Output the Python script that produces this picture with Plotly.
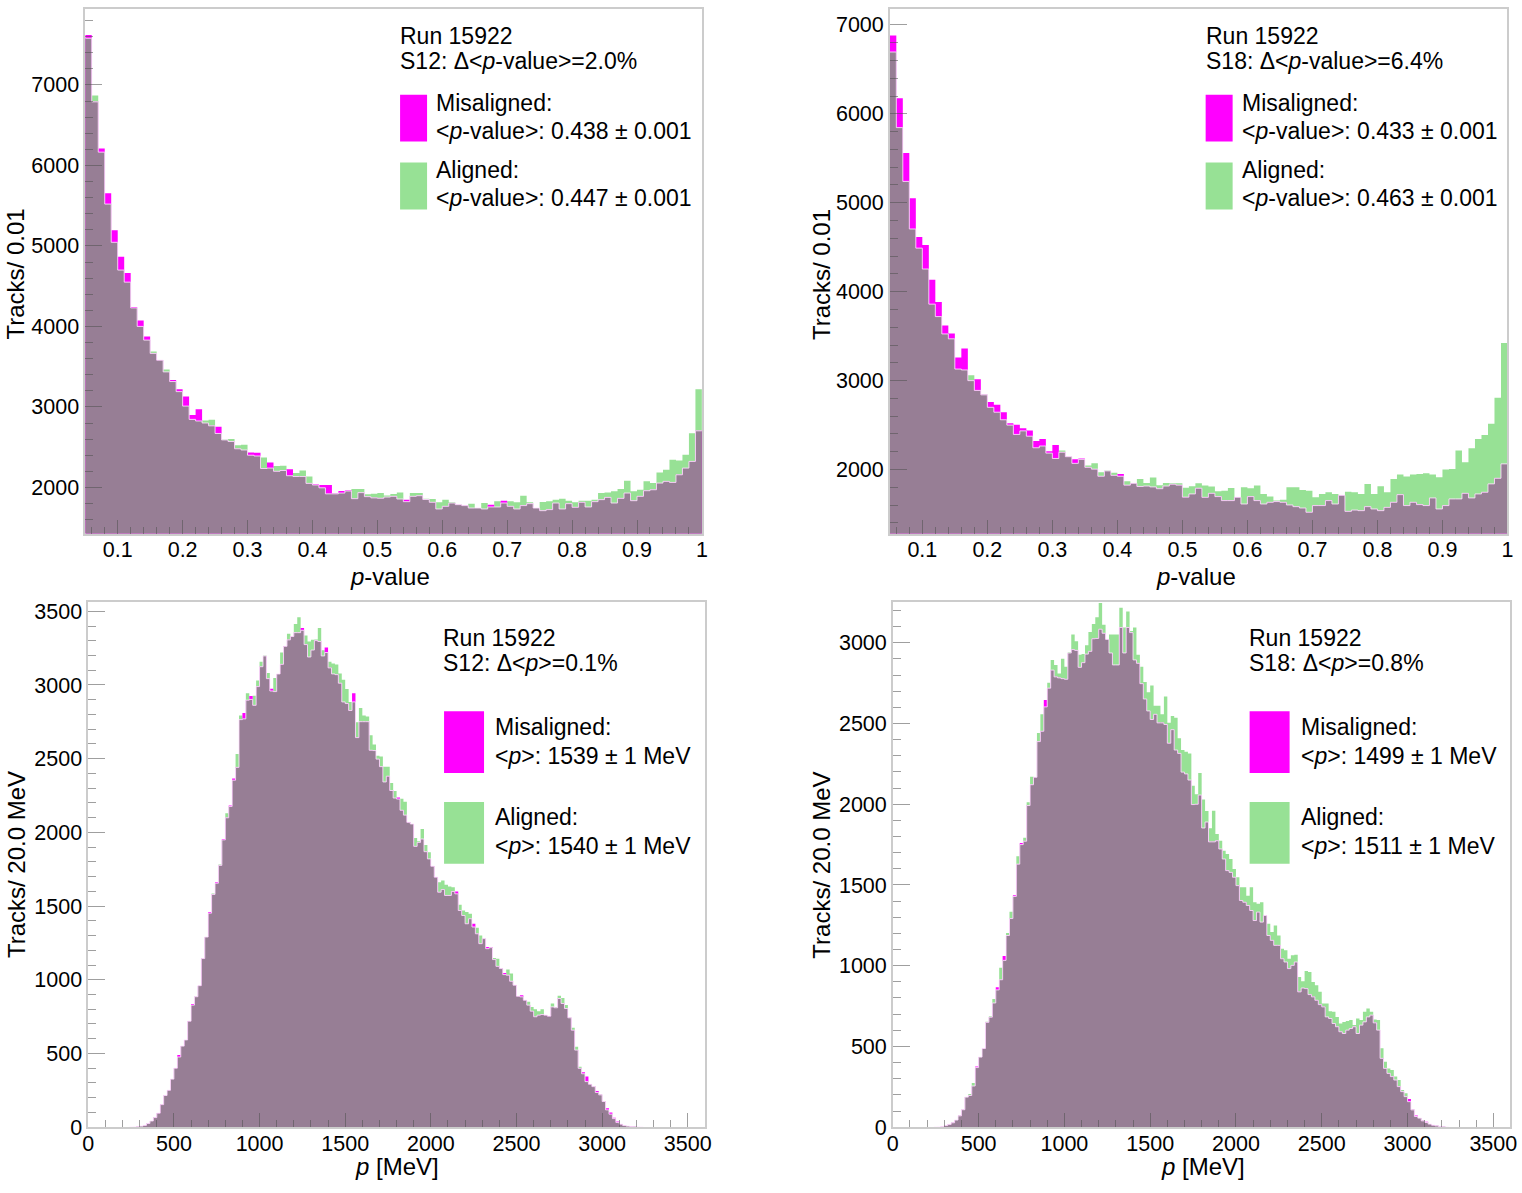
import numpy as np
import plotly.graph_objects as go

W, H = 1522, 1193

# ---- binning -------------------------------------------------------------
pval_lo, pval_bin = 0.05, 0.01      # p-value histograms: 0.05 .. 1.00
mom_lo, mom_bin = 240.0, 20.0       # momentum histograms, first stored bin 240 MeV

# ---- p-value, sector S12 (tracks / 0.01) ----------------------------------
pval_s12_mis = [
    7620, 6790, 6210, 5655, 5195, 4865, 4665, 4240, 4075, 3875,
    3665, 3580, 3435, 3335, 3220, 3130, 2900, 2970, 2800, 2765,
    2755, 2590, 2570, 2480, 2465, 2435, 2430, 2235, 2310, 2200,
    2210, 2225, 2135, 2135, 2050, 2040, 2030, 2030, 1925, 1955,
    1965, 1860, 1935, 1885, 1870, 1865, 1880, 1889, 1856, 1848,
    1889, 1897, 1850, 1815, 1732, 1765, 1806, 1786, 1774, 1744,
    1744, 1732, 1786, 1757, 1835, 1765, 1732, 1774, 1798, 1744,
    1711, 1724, 1806, 1732, 1798, 1753, 1815, 1757, 1823, 1848,
    1876, 1806, 1864, 1930, 1835, 1889, 1959, 1971, 2054, 2075,
    2062, 2157, 2240, 2323, 2703,
]
pval_s12_ali = [
    7580, 6870, 6165, 5520, 5045, 4700, 4550, 4230, 4000, 3830,
    3690, 3580, 3465, 3315, 3190, 3010, 2845, 2825, 2830, 2840,
    2670, 2595, 2600, 2525, 2530, 2400, 2390, 2370, 2240, 2265,
    2270, 2145, 2180, 2210, 2135, 2030, 1995, 1920, 1920, 1930,
    1955, 1980, 1980, 1915, 1920, 1930, 1900, 1918, 1938, 1823,
    1930, 1930, 1860, 1856, 1815, 1848, 1815, 1786, 1774, 1798,
    1744, 1806, 1757, 1827, 1806, 1827, 1815, 1897, 1815, 1744,
    1819, 1827, 1848, 1860, 1835, 1815, 1835, 1835, 1848, 1930,
    1938, 1951, 1980, 2083, 1951, 1971, 2075, 2054, 2186, 2219,
    2343, 2335, 2405, 2674, 3219,
]

# ---- p-value, sector S18 --------------------------------------------------
pval_s18_mis = [
    6880, 6175, 5560, 5050, 4615, 4525, 4135, 3885, 3620, 3530,
    3260, 3360, 3000, 3015, 2840, 2760, 2730, 2645, 2520, 2505,
    2465, 2440, 2320, 2345, 2205, 2275, 2195, 2145, 2115, 2125,
    2025, 2005, 1925, 1985, 1935, 1950, 1825, 1845, 1810, 1815,
    1805, 1785, 1815, 1835, 1825, 1690, 1726, 1790, 1688, 1733,
    1696, 1651, 1651, 1688, 1613, 1696, 1651, 1613, 1632, 1640,
    1632, 1602, 1583, 1568, 1520, 1595, 1595, 1651, 1613, 1715,
    1530, 1545, 1538, 1583, 1557, 1538, 1575, 1632, 1718, 1595,
    1632, 1606, 1595, 1681, 1557, 1595, 1670, 1670, 1733, 1681,
    1726, 1745, 1839, 1902, 2064,
]
pval_s18_ali = [
    6695, 5845, 5240, 4705, 4490, 4255, 3860, 3720, 3525, 3470,
    3130, 3120, 3060, 2890, 2840, 2700, 2645, 2560, 2500, 2395,
    2435, 2375, 2245, 2265, 2185, 2125, 2215, 2145, 2070, 2115,
    2045, 2070, 1970, 1990, 1965, 1925, 1870, 1850, 1895, 1850,
    1910, 1825, 1850, 1845, 1845, 1795, 1812, 1846, 1820, 1809,
    1756, 1763, 1794, 1690, 1801, 1790, 1820, 1726, 1696, 1651,
    1662, 1801, 1801, 1771, 1763, 1688, 1726, 1745, 1726, 1710,
    1752, 1745, 1726, 1839, 1726, 1812, 1745, 1895, 1944, 1921,
    1944, 1951, 1959, 1944, 1914, 2000, 2007, 2214, 2083, 2240,
    2345, 2390, 2514, 2807, 3423,
]

# ---- momentum, S12 (tracks / 20 MeV), bins from 240 MeV ------------------
mom_s12_mis = [
    0, 1, 3, 7, 12, 25, 42, 65, 95, 153,
    215, 250, 326, 400, 490, 550, 592, 719, 835, 885,
    960, 1144, 1290, 1460, 1579, 1662, 1776, 1955, 2099, 2182,
    2366, 2441, 2765, 2809, 2897, 2925, 2862, 2989, 3124, 3197,
    3043, 2975, 2955, 3075, 3140, 3262, 3306, 3329, 3355, 3355,
    3387, 3274, 3190, 3237, 3301, 3295, 3197, 3255, 3116, 3075,
    3070, 3012, 2885, 2874, 2827, 2943, 2643, 2751, 2751, 2751,
    2557, 2555, 2497, 2446, 2342, 2381, 2284, 2233, 2237, 2150,
    2117, 2068, 2057, 1905, 1932, 1955, 1869, 1820, 1770, 1696,
    1594, 1612, 1572, 1572, 1599, 1599, 1470, 1436, 1380, 1414,
    1380, 1312, 1245, 1279, 1222, 1222, 1137, 1091, 1076, 1046,
    1031, 990, 963, 888, 895, 861, 828, 787, 749, 760,
    764, 760, 753, 816, 810, 873, 839, 805, 742, 658,
    523, 399, 372, 343, 291, 275, 246, 219, 174, 128,
    99, 63, 38, 20, 11, 7, 4, 2, 1, 0,
]
mom_s12_ali = [
    0, 1, 3, 7, 12, 25, 42, 65, 95, 153,
    215, 250, 326, 400, 476, 550, 592, 719, 828, 885,
    960, 1144, 1290, 1452, 1585, 1655, 1782, 1949, 2130, 2176,
    2354, 2532, 2793, 2770, 2943, 2902, 2927, 3031, 3158, 3200,
    3082, 2959, 3047, 3075, 3220, 3262, 3348, 3329, 3413, 3459,
    3371, 3336, 3295, 3306, 3308, 3387, 3236, 3220, 3158, 3146,
    3139, 3077, 3035, 2973, 2885, 2885, 2747, 2844, 2793, 2786,
    2659, 2596, 2520, 2515, 2446, 2446, 2335, 2280, 2226, 2228,
    2208, 2068, 2057, 1962, 1940, 2023, 1914, 1865, 1770, 1696,
    1662, 1673, 1644, 1633, 1628, 1583, 1509, 1470, 1459, 1448,
    1358, 1353, 1301, 1279, 1211, 1218, 1148, 1143, 1076, 1035,
    1069, 1042, 963, 888, 884, 861, 850, 816, 800, 787,
    800, 760, 753, 839, 816, 891, 877, 828, 742, 674,
    546, 410, 362, 309, 291, 275, 235, 219, 174, 117,
    88, 58, 32, 20, 11, 7, 4, 2, 1, 0,
]

# ---- momentum, S18 --------------------------------------------------------
mom_s18_mis = [
    0, 1, 4, 10, 17, 27, 44, 70, 108, 186,
    196, 255, 375, 434, 487, 649, 681, 769, 866, 913,
    1060, 1187, 1292, 1436, 1629, 1760, 1771, 1992, 2121, 2167,
    2388, 2452, 2645, 2719, 2831, 2789, 2783, 2778, 2774, 2937,
    2958, 2953, 2848, 2877, 2930, 2947, 3025, 3027, 3084, 3059,
    3021, 2937, 2863, 2863, 3095, 2937, 3095, 3063, 2894, 2873,
    2747, 2652, 2578, 2525, 2557, 2504, 2504, 2494, 2378, 2462,
    2336, 2315, 2199, 2188, 2150, 1998, 2000, 2057, 1853, 1890,
    1767, 1767, 1774, 1723, 1661, 1589, 1578, 1548, 1496, 1404,
    1393, 1373, 1342, 1280, 1332, 1270, 1311, 1187, 1157, 1126,
    1126, 1043, 1023, 982, 1002, 1023, 838, 862, 858, 821,
    807, 786, 759, 745, 683, 673, 642, 622, 591, 580,
    601, 611, 622, 580, 632, 652, 683, 694, 646, 601,
    426, 364, 333, 313, 292, 251, 220, 189, 175, 107,
    72, 56, 39, 33, 19, 12, 8, 4, 2, 0,
]
mom_s18_ali = [
    0, 1, 4, 10, 17, 27, 44, 70, 108, 186,
    205, 274, 369, 434, 487, 653, 687, 793, 850, 987,
    1033, 1202, 1334, 1429, 1678, 1750, 1792, 2013, 2171, 2167,
    2441, 2557, 2603, 2753, 2894, 2863, 2810, 2901, 2852, 2941,
    3052, 3010, 2926, 2930, 2985, 3067, 3116, 3158, 3247, 3111,
    3021, 3052, 3052, 3052, 3217, 3095, 3194, 3073, 3095, 2926,
    2852, 2757, 2694, 2736, 2610, 2610, 2557, 2667, 2504, 2546,
    2536, 2409, 2336, 2325, 2315, 2114, 2062, 2194, 2030, 1958,
    1851, 1960, 1815, 1774, 1712, 1692, 1661, 1599, 1548, 1486,
    1486, 1434, 1486, 1393, 1383, 1393, 1311, 1260, 1208, 1249,
    1187, 1105, 1095, 1043, 1064, 1068, 930, 903, 967, 961,
    899, 879, 838, 766, 766, 718, 714, 683, 642, 652,
    657, 663, 632, 673, 663, 714, 735, 714, 667, 663,
    488, 405, 364, 354, 313, 292, 230, 210, 158, 107,
    66, 56, 39, 29, 19, 12, 8, 4, 2, 0,
]

# ---- legend texts -----------------------------------------------------------
run_label = "Run 15922"
sectors = ["S12", "S18", "S12", "S18"]
delta_text = ["2.0%", "6.4%", "0.1%", "0.8%"]
mean_mis = ["0.438 ± 0.001", "0.433 ± 0.001", "1539 ± 1 MeV", "1499 ± 1 MeV"]
mean_ali = ["0.447 ± 0.001", "0.463 ± 0.001", "1540 ± 1 MeV", "1511 ± 1 MeV"]

MAGENTA = "#ff00ff"
GREEN = "#97e195"
MAUVE = "#977e95"
EDGE = "rgba(255,225,255,0.85)"
FONT = "Liberation Sans"

# the photographed page comes out slightly shrunk; place things so they land
# on the reference pixel positions
SX, OX = 0.992, 5.7
SY, OY = 0.989, 2.1


def px(x):
    return (x - OX) / SX / W


def py(y):
    return 1 - (y - OY) / SY / H


def step_xy(lo, width, vals):
    v = np.asarray(vals, dtype=float)
    edges = lo + width * np.arange(len(v) + 1)
    return edges, np.append(v, v[-1])


fig = go.Figure()


def add_hist(xa, ya, lo, width, mis, ali):
    mis = np.asarray(mis, float)
    ali = np.asarray(ali, float)
    layers = [(ali, GREEN, 0), (mis, MAGENTA, 0), (np.minimum(mis, ali), MAUVE, 1)]
    for vals, col, lw in layers:
        x, y = step_xy(lo, width, vals)
        fig.add_trace(go.Scatter(
            x=x, y=y, xaxis=xa, yaxis=ya, mode="lines",
            line=dict(width=lw, shape="hv", color=EDGE), fill="tozeroy", fillcolor=col,
            hoverinfo="skip", showlegend=False))


add_hist("x", "y", pval_lo, pval_bin, pval_s12_mis, pval_s12_ali)
add_hist("x2", "y2", pval_lo, pval_bin, pval_s18_mis, pval_s18_ali)
add_hist("x3", "y3", mom_lo, mom_bin, mom_s12_mis, mom_s12_ali)
add_hist("x4", "y4", mom_lo, mom_bin, mom_s18_mis, mom_s18_ali)

tickc = "rgba(80,80,80,0.55)"
common = dict(showline=True, linecolor="#cccccc", linewidth=1.5, mirror=True,
              ticks="inside", tickcolor=tickc, tickwidth=1, showgrid=False,
              zeroline=False, tickfont=dict(family=FONT, size=21.5, color="black"))


def xax(dom, rng, dtick, mdtick, anchor):
    return dict(common, domain=dom, range=rng, dtick=dtick, ticklen=14, anchor=anchor,
                ticklabelstandoff=-4,
                minor=dict(ticks="inside", ticklen=7, dtick=mdtick, tickcolor=tickc))


def yax(dom, rng, dtick, mdtick, anchor):
    return dict(common, domain=dom, range=rng, dtick=dtick, ticklen=17, anchor=anchor,
                minor=dict(ticks="inside", ticklen=8, dtick=mdtick, tickcolor=tickc))


top_y = [py(534), py(8)]
bot_y = [py(1129), py(603)]

fig.update_layout(
    width=W, height=H, margin=dict(l=0, r=0, t=0, b=0),
    paper_bgcolor="white", plot_bgcolor="white",
    font=dict(family=FONT, color="black"),
    xaxis=xax([px(85), px(702)], [0.05, 1.0], 0.1, 0.02, "y"),
    yaxis=yax(top_y, [1426, 7945], 1000, 200, "x"),
    xaxis2=xax([px(890), px(1508)], [0.05, 1.0], 0.1, 0.02, "y2"),
    yaxis2=yax(top_y, [1280, 7180], 1000, 200, "x2"),
    xaxis3=xax([px(88), px(705)], [0, 3600], 500, 100, "y3"),
    yaxis3=yax(bot_y, [0, 3560], 500, 100, "x3"),
    xaxis4=xax([px(893), px(1511)], [0, 3600], 500, 100, "y4"),
    yaxis4=yax(bot_y, [0, 3250], 500, 100, "x4"),
)

ann = []
shapes = []


def text(x, y, s, size=23, angle=0, anchor="left"):
    ann.append(dict(x=px(x), y=py(y), xref="paper", yref="paper", text=s,
                    showarrow=False, xanchor=anchor, yanchor="middle", textangle=angle,
                    font=dict(family=FONT, size=size, color="black")))


# axis titles
for dx in (0, 806):
    text(390 + dx, 577, "<i>p</i>-value", size=24, anchor="center")
    text(15 + dx, 274, "Tracks/ 0.01", size=24, angle=-90, anchor="center")
    text(397 + dx, 1168, "<i>p</i> [MeV]", size=24, anchor="center")
    text(16 + dx, 866, "Tracks/ 20.0 MeV", size=24, angle=-90, anchor="center")

# legends
for i in range(4):
    dx = 806 if i % 2 else 0
    if i < 2:
        qty = "&lt;<i>p</i>-value&gt;"
        x0, y0 = 398 + dx, 35
        box = (400 + dx, 427 + dx)
        tx = 434 + dx
        rows = (102, 130, 170, 198)
        bm, bg = (94, 141), (162, 209)
    else:
        qty = "&lt;<i>p</i>&gt;"
        x0, y0 = 441 + dx, 639
        box = (444 + dx, 484 + dx)
        tx = 493 + dx
        rows = (728, 757, 818, 847)
        bm, bg = (712, 774), (803, 865)
    text(x0, y0, run_label)
    text(x0, y0 + 25, f"{sectors[i]}: Δ{qty}={delta_text[i]}")
    text(tx, rows[0], "Misaligned:")
    text(tx, rows[1], f"{qty}: {mean_mis[i]}")
    text(tx, rows[2], "Aligned:")
    text(tx, rows[3], f"{qty}: {mean_ali[i]}")
    for (ya, yb), col in [(bm, MAGENTA), (bg, GREEN)]:
        shapes.append(dict(type="rect", xref="paper", yref="paper",
                           x0=px(box[0]), x1=px(box[1]), y0=py(yb), y1=py(ya),
                           fillcolor=col, line=dict(width=0)))

fig.update_layout(annotations=ann, shapes=shapes)

# drop the default page margin so the figure sits exactly in the window
page_fix = ("document.body.style.margin='0';"
            "document.body.style.overflow='hidden';"
            "document.documentElement.style.overflow='hidden';")
fig.write_html("out.html", post_script=page_fix, config={"displayModeBar": False})
